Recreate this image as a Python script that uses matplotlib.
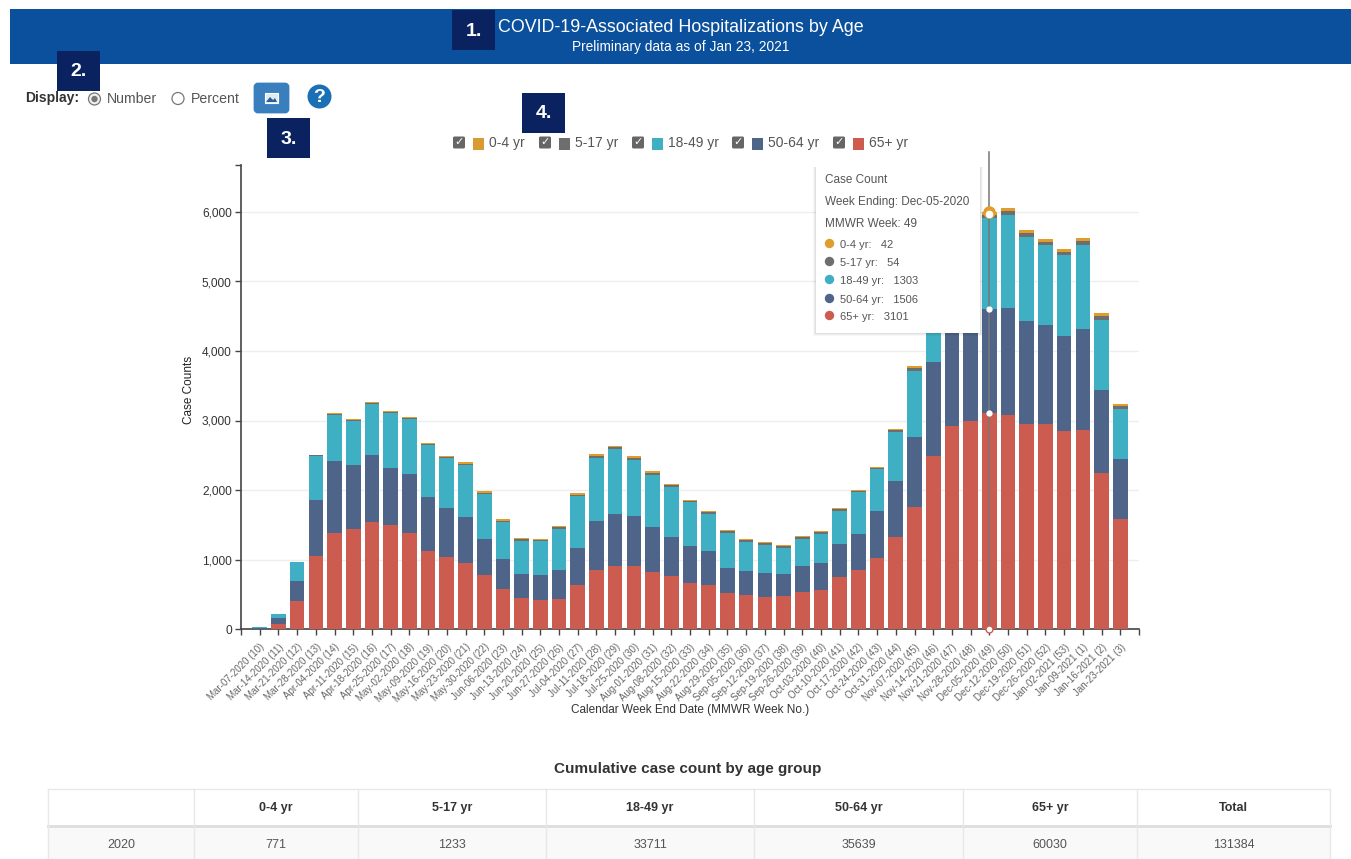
import matplotlib
matplotlib.use("Agg")
import matplotlib.pyplot as plt
from matplotlib.patches import Rectangle, Circle, FancyBboxPatch, Polygon
from matplotlib.ticker import FuncFormatter
import numpy as np

plt.rcParams['font.family'] = ['Liberation Sans', 'DejaVu Sans']

week_labels = [
 "Mar-07-2020 (10)","Mar-14-2020 (11)","Mar-21-2020 (12)","Mar-28-2020 (13)","Apr-04-2020 (14)","Apr-11-2020 (15)",
 "Apr-18-2020 (16)","Apr-25-2020 (17)","May-02-2020 (18)","May-09-2020 (19)","May-16-2020 (20)","May-23-2020 (21)",
 "May-30-2020 (22)","Jun-06-2020 (23)","Jun-13-2020 (24)","Jun-20-2020 (25)","Jun-27-2020 (26)","Jul-04-2020 (27)",
 "Jul-11-2020 (28)","Jul-18-2020 (29)","Jul-25-2020 (30)","Aug-01-2020 (31)","Aug-08-2020 (32)","Aug-15-2020 (33)",
 "Aug-22-2020 (34)","Aug-29-2020 (35)","Sep-05-2020 (36)","Sep-12-2020 (37)","Sep-19-2020 (38)","Sep-26-2020 (39)",
 "Oct-03-2020 (40)","Oct-10-2020 (41)","Oct-17-2020 (42)","Oct-24-2020 (43)","Oct-31-2020 (44)","Nov-07-2020 (45)",
 "Nov-14-2020 (46)","Nov-21-2020 (47)","Nov-28-2020 (48)","Dec-05-2020 (49)","Dec-12-2020 (50)","Dec-19-2020 (51)",
 "Dec-26-2020 (52)","Jan-02-2021 (53)","Jan-09-2021 (1)","Jan-16-2021 (2)","Jan-23-2021 (3)"]

age_65 = [4,77,404,1054,1387,1440,1540,1497,1387,1117,1030,944,775,578,453,424,433,640,852,900,905,823,761,662,638,
          517,483,459,478,531,565,744,855,1019,1323,1758,2490,2916,2993,3101,3074,2950,2950,2849,2863,2245,1585]
age_50 = [5,77,289,795,1025,914,959,823,847,780,713,669,525,428,341,356,419,530,703,756,727,645,563,531,488,
          362,353,348,314,372,387,478,512,686,802,1000,1347,1400,1480,1506,1540,1482,1429,1362,1449,1199,861]
age_18 = [18,66,270,645,669,641,736,785,784,746,717,741,640,530,477,481,592,737,910,929,804,747,719,628,526,
          507,415,406,377,397,420,483,599,590,705,954,1000,1000,1050,1303,1343,1213,1141,1170,1208,1002,724]
age_5 = [1,2,4,8,15,12,18,15,18,20,18,24,24,24,18,18,20,24,28,30,28,30,24,22,25,
         25,27,18,25,24,22,19,22,22,30,45,40,45,45,54,55,52,55,50,63,62,40]
age_0 = [1,1,3,6,14,11,16,14,16,19,16,20,20,19,16,16,19,19,20,23,20,23,20,17,19,
         19,22,15,19,19,17,15,17,13,22,32,30,35,35,42,41,39,41,37,48,44,32]

series_names = ["65+ yr","50-64 yr","18-49 yr","5-17 yr","0-4 yr"]
series_colors = ["#cd5c50","#4e6489","#3fafc4","#6e6e6e","#e09d2b"]
y_ticks = [0,1000,2000,3000,4000,5000,6000]

tooltip_week = "Dec-05-2020 (49)"
table_cols = ["0-4 yr","5-17 yr","18-49 yr","50-64 yr","65+ yr","Total"]
table_row = ["2020","771","1233","33711","35639","60030","131384"]

W, H = 1351, 859
fig = plt.figure(figsize=(W/100, H/100), dpi=100, facecolor="white")

# chart
L, R, T, B = 241, 1139, 165, 629
ax = fig.add_axes([L/W, 1-B/H, (R-L)/W, (B-T)/H], zorder=2)
ax.set_xlim(-1, len(week_labels))
ax.set_ylim(0, (B-T)/0.0695)
x = np.arange(len(week_labels))
bottom = np.zeros(len(x))
for vals, col in zip([age_65,age_50,age_18,age_5,age_0], series_colors):
    ax.bar(x, vals, 0.78, bottom=bottom, color=col, zorder=3)
    bottom += np.array(vals)

for s in ("top","right"):
    ax.spines[s].set_visible(False)
for s in ("left","bottom"):
    ax.spines[s].set_color("#444444")
    ax.spines[s].set_linewidth(1.2)
ax.set_yticks(y_ticks)
ax.yaxis.set_major_formatter(FuncFormatter(lambda v,_: f"{int(v):,}"))
ax.set_yticks([ax.get_ylim()[1]], minor=True)
ax.set_xticks(x)
ax.set_xticks([-1, len(week_labels)], minor=True)
ax.set_xticklabels(week_labels, rotation=45, ha="right", rotation_mode="anchor",
                   fontsize=7.0, color="#666666")
ax.tick_params(axis="x", which="both", length=4.3, width=1, color="#444444", pad=5)
ax.tick_params(axis="y", which="both", length=4.2, width=1, color="#444444", labelsize=8.6,
               labelcolor="#333333", pad=2.5)
ax.grid(axis="y", which="major", color="#eeeeee", lw=1, zorder=0)
ax.set_axisbelow(True)
ax.set_ylabel("Case Counts", fontsize=8.5, color="#222222")
ax.yaxis.set_label_coords(-0.051, 0.515)
ax.set_xlabel("Calendar Week End Date (MMWR Week No.)", fontsize=8.5, color="#333333")
ax.xaxis.set_label_coords(0.5, -0.162)

# hover guide built from the highlighted week
i = week_labels.index(tooltip_week)
stack_tops = np.cumsum([age_65[i], age_50[i], age_18[i], age_5[i], age_0[i]])
ax.plot([i, i], [0, 6860], color="#777777", lw=1.1, clip_on=False, zorder=6)
ax.plot([i], [stack_tops[4]], "o", ms=8, mfc="#e09d2b", mec="#e09d2b", zorder=7, clip_on=False)
ax.plot([i], [stack_tops[4]-35], "o", ms=4.5, mfc="white", mec="white", zorder=8, clip_on=False)
for v in [stack_tops[0], stack_tops[1]]:
    ax.plot([i], [v], "o", ms=3.5, mfc="white", mec="white", zorder=8, clip_on=False)
ax.plot([i], [0], "o", ms=5, mfc="white", mec="#cd5c50", mew=1, zorder=8, clip_on=False)

# overlay in pixel coordinates
ov = fig.add_axes([0,0,1,1], zorder=5)
ov.set_xlim(0, W); ov.set_ylim(H, 0); ov.axis("off"); ov.patch.set_alpha(0)

# header
ov.add_patch(Rectangle((10,9), 1341, 54.5, fc="#0b509c", ec="none"))
ov.text(680.5, 28, "COVID-19-Associated Hospitalizations by Age", color="white", fontsize=12.9, ha="center", va="center")
ov.text(680.5, 47.5, "Preliminary data as of Jan 23, 2021", color="white", fontsize=9.9, ha="center", va="center")

# numbered boxes
for bx, by, n in [(452,10,"1."),(57,51,"2."),(267,118,"3."),(522,93,"4.")]:
    ov.add_patch(Rectangle((bx,by), 43, 40, fc="#0b2260", ec="none", zorder=6))
    ov.text(bx+21.5, by+21, n, color="white", fontsize=14, fontweight="bold", ha="center", va="center", zorder=7)

# display controls
ov.text(25, 98, "Display:", fontsize=10, fontweight="bold", color="#333333", va="center")
ov.add_patch(Circle((94.5,99), 6, fc="#f0f0f0", ec="#777777", lw=0.9))
ov.add_patch(Circle((94.5,99), 3.2, fc="#777777", ec="none"))
ov.text(107, 99, "Number", fontsize=10.2, color="#555555", va="center")
ov.add_patch(Circle((178,98.5), 6, fc="white", ec="#777777", lw=0.9))
ov.text(191, 99, "Percent", fontsize=10.2, color="#555555", va="center")
ov.add_patch(FancyBboxPatch((255,84), 33, 28, boxstyle="round,pad=0,rounding_size=3", fc="#3a7fbd", ec="#3a7fbd", lw=2))
ov.add_patch(Rectangle((265,93), 13, 10, fc="#dfeaf5", ec="white", lw=0.8))
ov.add_patch(Polygon([(266,102),(270,97),(273,100),(275,98),(277,102)], fc="#2a5f95", ec="none"))
ov.add_patch(Circle((319.5,96.5), 12, fc="#1a6fb5", ec="none"))
ov.text(319.5, 97, "?", color="white", fontsize=14, fontweight="bold", ha="center", va="center")

# legend
legend_items = [(453,"0-4 yr",4),(539,"5-17 yr",3),(632,"18-49 yr",2),(732,"50-64 yr",1),(833,"65+ yr",0)]
swatch_cols = {4:"#d99a33",3:"#6e6e6e",2:"#3fafc4",1:"#4e6489",0:"#cd5c50"}
for lx, name, k in legend_items:
    ov.add_patch(FancyBboxPatch((lx,136.5), 12, 12, boxstyle="round,pad=0,rounding_size=1.5", fc="#666666", ec="none"))
    ov.text(lx+6, 142.5, "\u2713", color="white", fontsize=8, fontweight="bold", ha="center", va="center", family="DejaVu Sans")
    ov.add_patch(Rectangle((lx+20,138), 11, 12, fc=swatch_cols[k], ec="none"))
    ov.text(lx+36, 143.5, name, fontsize=10, color="#555555", va="center")

# tooltip
for off, a in [(3,0.03),(2,0.04),(1,0.05)]:
    ov.add_patch(Rectangle((816-off,167), 164+2*off, 166+off, fc="#000000", alpha=a, ec="none", zorder=4))
ov.add_patch(Rectangle((816,167), 164, 166, fc="white", ec="none", zorder=5))
ov.text(825, 180, "Case Count", fontsize=8.5, color="#555555", va="center", zorder=6)
ov.text(825, 202, "Week Ending: Dec-05-2020", fontsize=8.5, color="#555555", va="center", zorder=6)
ov.text(825, 224, "MMWR Week: 49", fontsize=8.5, color="#555555", va="center", zorder=6)
tip_vals = [age_0[i], age_5[i], age_18[i], age_50[i], age_65[i]]
tip_names = series_names[::-1]
tip_cols = series_colors[::-1]
tip_gaps = [(245),(263),(281),(300),(317)]
for yy, nm, vv, cc in zip(tip_gaps, tip_names, tip_vals, tip_cols):
    ov.add_patch(Circle((829.5,yy-1.5), 4.7, fc=cc, ec="none", zorder=6))
    ov.text(840, yy, f"{nm}:   {vv}", fontsize=8, color="#555555", va="center", zorder=6)

# table
ov.text(688, 768.5, "Cumulative case count by age group", fontsize=11, fontweight="bold", color="#333333", ha="center", va="center")
col_x = [48,194,358,546,754,963,1137,1330]
ov.add_patch(Rectangle((48,826), 1282, 33, fc="#f9f9f9", ec="none"))
ov.plot([48,1330],[789,789], color="#e8e8e8", lw=1)
ov.plot([48,1330],[826,826], color="#dddddd", lw=2)
for cx in col_x:
    ov.plot([cx,cx],[789,859], color="#e8e8e8", lw=1)
for j, c in enumerate(table_cols):
    ov.text((col_x[j+1]+col_x[j+2])/2, 808, c, fontsize=9, fontweight="bold", color="#333333", ha="center", va="center")
for j, c in enumerate(table_row):
    ov.text((col_x[j]+col_x[j+1])/2, 844.5, c, fontsize=9, color="#555555", ha="center", va="center")

fig.savefig("out.png", dpi=100, facecolor="white")
